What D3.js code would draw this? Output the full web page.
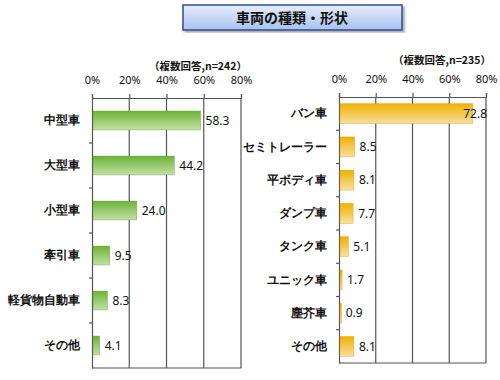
<!DOCTYPE html>
<html>
<head>
<meta charset="utf-8">
<script src="https://cdn.jsdelivr.net/npm/d3@7"></script>
<style>
body{margin:0;background:#fff;}
svg{display:block;font-family:"Noto Sans CJK JP","Noto Sans",sans-serif;}
</style>
</head>
<body>
<div id="chart"></div>
<script>
var titleText = "車両の種類・形状";

var leftCats = ["中型車","大型車","小型車","牽引車","軽貨物自動車","その他"];
var leftVals = [58.3,44.2,24.0,9.5,8.3,4.1];
var leftNote = "（複数回答,n=242）";

var rightCats = ["バン車","セミトレーラー","平ボディ車","ダンプ車","タンク車","ユニック車","塵芥車","その他"];
var rightVals = [72.8,8.5,8.1,7.7,5.1,1.7,0.9,8.1];
var rightNote = "（複数回答,n=235）";

var tickVals = [0,20,40,60,80];

var svg = d3.select("#chart").append("svg")
    .attr("width",500)
    .attr("height",380);

var defs = svg.append("defs");
function grad(id, top, bottom){
    var g = defs.append("linearGradient").attr("id",id)
        .attr("x1",0).attr("y1",0).attr("x2",0).attr("y2",1);
    g.append("stop").attr("offset","0%").attr("stop-color",top);
    g.append("stop").attr("offset","100%").attr("stop-color",bottom);
}
grad("gGreen","#6cb336","#c2e0a6");
grad("gYellow","#efb100","#f8dfa0");
grad("gTitle","#e6eefb","#a9c1ee");

var shadow = defs.append("filter").attr("id","shd");
shadow.append("feDropShadow").attr("dx",2).attr("dy",2).attr("stdDeviation",1.2)
    .attr("flood-color","#000").attr("flood-opacity",0.35);

// title box
svg.append("rect")
    .attr("x",183).attr("y",5).attr("width",219).attr("height",25)
    .attr("fill","url(#gTitle)").attr("stroke","#2b4c9b").attr("stroke-width",1.5)
    .attr("filter","url(#shd)");
svg.append("text")
    .attr("x",292).attr("y",23)
    .attr("text-anchor","middle")
    .attr("font-size",14).attr("font-weight","bold").attr("fill","#111")
    .text(titleText);

function drawPanel(cats, vals, note, box, fillId, edge, barRatio, noteY){
    var x = d3.scaleLinear().domain([0,80]).range([box.x0, box.x1]);
    var y = d3.scaleBand().domain(cats).range([box.y0, box.y1]);
    var g = svg.append("g");

    // grid lines
    g.selectAll(".grid").data(tickVals.slice(1)).enter().append("line")
        .attr("x1",function(d){return x(d);}).attr("x2",function(d){return x(d);})
        .attr("y1",box.y0).attr("y2",box.y1)
        .attr("stroke","#555").attr("stroke-width",1.2);

    // top axis
    var top = g.append("g")
        .attr("transform","translate(0,"+box.y0+")")
        .call(d3.axisTop(x).tickValues(tickVals).tickSize(4).tickFormat(function(d){return d+"%";}));
    top.select(".domain").attr("stroke","#555").attr("stroke-width",1.2);
    top.selectAll(".tick line").attr("stroke","#555").attr("stroke-width",1.2);
    top.selectAll("text").attr("font-size",11).attr("fill","#111")
        .attr("font-family","\"Noto Sans\",sans-serif").attr("dy","-0.6em");

    // bottom line
    g.append("line")
        .attr("x1",box.x0).attr("x2",x(80)).attr("y1",box.y1).attr("y2",box.y1)
        .attr("stroke","#555").attr("stroke-width",1.2);

    // left axis
    var left = g.append("g")
        .attr("transform","translate("+box.x0+",0)")
        .call(d3.axisLeft(y).tickSize(0).tickPadding(12));
    left.select(".domain").attr("stroke","#555").attr("stroke-width",1.2);
    left.selectAll("text").attr("font-size",12).attr("font-weight","bold").attr("fill","#111");

    // category separator ticks
    g.selectAll(".sep").data(cats.slice(1)).enter().append("line")
        .attr("x1",box.x0-3).attr("x2",box.x0)
        .attr("y1",function(d){return y(d);}).attr("y2",function(d){return y(d);})
        .attr("stroke","#555").attr("stroke-width",1.2);

    // bars
    var bh = y.bandwidth()*barRatio;
    g.selectAll(".bar").data(vals).enter().append("rect")
        .attr("x",box.x0+1)
        .attr("y",function(d,i){return y(cats[i]) + (y.bandwidth()-bh)/2;})
        .attr("width",function(d){return Math.max(x(d)-box.x0-1,1.5);})
        .attr("height",bh)
        .attr("fill","url(#"+fillId+")")
        .attr("stroke",edge).attr("stroke-width",0.6).attr("stroke-opacity",0.6);

    // value labels
    g.selectAll(".val").data(vals).enter().append("text")
        .attr("x",function(d){ return x(d)+26 > x(80) ? x(80)+1 : x(d)+5; })
        .attr("text-anchor",function(d){ return x(d)+26 > x(80) ? "end" : "start"; })
        .attr("y",function(d,i){return y(cats[i]) + y.bandwidth()/2;})
        .attr("dy","0.36em")
        .attr("font-size",12).attr("fill","#111")
        .attr("font-family","\"Noto Sans\",sans-serif")
        .text(function(d){return d.toFixed(1);});

    // note
    svg.append("text")
        .attr("x",box.noteX).attr("y",noteY)
        .attr("text-anchor","middle")
        .attr("font-size",10.5).attr("font-weight","bold").attr("fill","#111")
        .text(note);
}

drawPanel(leftCats, leftVals, leftNote,
    {x0:92, x1:241, y0:98, y1:368, noteX:198}, "gGreen", "#5a9a2c", 0.42, 70);
drawPanel(rightCats, rightVals, rightNote,
    {x0:339, x1:486, y0:97, y1:363, noteX:442}, "gYellow", "#d89a00", 0.6, 64);
</script>
</body>
</html>
